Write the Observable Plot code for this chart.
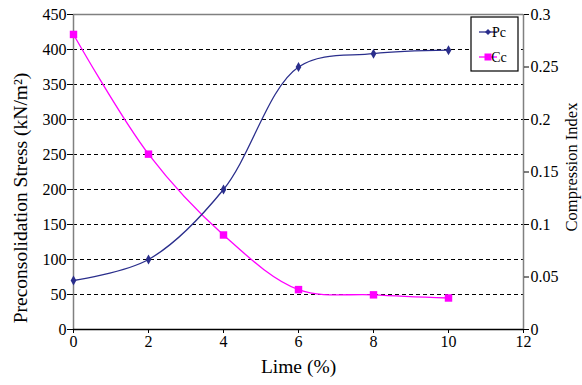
<!DOCTYPE html>
<html><head><meta charset="utf-8">
<script src="https://cdn.jsdelivr.net/npm/d3@7"></script>
<script src="https://cdn.jsdelivr.net/npm/@observablehq/plot@0.6"></script>
<style>body{margin:0;background:#fff}#c{position:relative;width:582px;height:385px}
#c svg, #c svg text{font-family:"Liberation Serif","Times New Roman",serif !important}</style>
</head><body><div id="c"></div>
<script>
const lime = [0, 2, 4, 6, 8, 10];
const pc = [70, 100, 200, 375, 394, 399];
const cc = [0.281, 0.167, 0.090, 0.038, 0.033, 0.030];
const leftTicks = [0, 50, 100, 150, 200, 250, 300, 350, 400, 450];
const rightTicks = [0, 0.05, 0.1, 0.15, 0.2, 0.25, 0.3];
const xTicks = [0, 2, 4, 6, 8, 10, 12];
const gridVals = [50, 100, 150, 200, 250, 300, 350, 400];
const xTitle = "Lime (%)";
const yTitle = "Preconsolidation Stress (kN/m²)";
const y2Title = "Compression Index";

const ratio = 450 / 0.3;
const pcData = lime.map((x, i) => ({x, v: pc[i]}));
const ccData = lime.map((x, i) => ({x, v: cc[i]}));
const navy = "#2a2e8c", mag = "#ff00ff";
const font = '"Liberation Serif", "Times New Roman", serif';

const chart = Plot.plot({
  width: 582, height: 385,
  marginLeft: 73, marginRight: 59, marginTop: 14, marginBottom: 56,
  style: {fontFamily: font, fontSize: "16px", color: "#000", background: "#fff"},
  x: {domain: [0, 12]},
  y: {domain: [0, 450]},
  marks: [
    Plot.ruleY(gridVals, {stroke: "#000", strokeWidth: 1, strokeDasharray: "4,3"}),
    Plot.ruleY([450], {stroke: "#808080", strokeWidth: 1.5}),
    Plot.ruleX([0, 12], {stroke: "#808080", strokeWidth: 1.5}),
    Plot.ruleY([0], {stroke: "#000", strokeWidth: 1.5}),
    Plot.axisX({ticks: xTicks, tickSize: 4, tickPadding: 2, fontSize: 16, label: null}),
    Plot.axisY({ticks: leftTicks, tickSize: 6, tickPadding: 1, fontSize: 16, label: null}),
    Plot.axisY({anchor: "right", ticks: rightTicks.map(d => d * ratio), tickFormat: d => String(+(d / ratio).toFixed(2)), tickSize: 5, tickPadding: 2, fontSize: 16, label: null}),
    Plot.text([xTitle], {text: d => d, frameAnchor: "bottom", textAnchor: "middle", dy: 43, fontSize: 19.5}),
    Plot.text([yTitle], {text: d => d, frameAnchor: "left", textAnchor: "middle", dx: -53, dy: 26, rotate: -90, fontSize: 19.5}),
    Plot.text([y2Title], {text: d => d, frameAnchor: "right", textAnchor: "middle", dx: 48, dy: -5, rotate: -90, fontSize: 16.5}),
    Plot.line(ccData, {x: "x", y: d => d.v * ratio, stroke: mag, strokeWidth: 1.3, curve: "catmull-rom"}),
    Plot.line(pcData, {x: "x", y: "v", stroke: navy, strokeWidth: 1.3, curve: "catmull-rom"}),
    Plot.dot(ccData, {x: "x", y: d => d.v * ratio, symbol: "square", r: 4.2, fill: mag}),
    Plot.dot(pcData, {x: "x", y: "v", symbol: "diamond", r: 3, fill: navy})
  ]
});
document.getElementById("c").appendChild(chart);

// legend box
const svg = d3.select(chart);
const lg = svg.append("g").attr("font-family", font).attr("font-size", 14);
lg.append("rect").attr("x", 471).attr("y", 17).attr("width", 47).attr("height", 54)
  .attr("fill", "#fff").attr("stroke", "#000").attr("stroke-width", 1.2);
const items = [{name: "Pc", c: navy, sym: "diamond"}, {name: "Cc", c: mag, sym: "square"}];
items.forEach((it, i) => {
  const y = 32 + i * 25;
  lg.append("line").attr("x1", 479).attr("x2", 497).attr("y1", y).attr("y2", y).attr("stroke", it.c).attr("stroke-width", 1.3);
  if (it.sym === "square") lg.append("rect").attr("x", 484.5).attr("y", y - 3.5).attr("width", 7).attr("height", 7).attr("fill", it.c);
  else lg.append("path").attr("d", `M488,${y-3}L491,${y}L488,${y+3}L485,${y}Z`).attr("fill", it.c);
  lg.append("text").attr("x", 499).attr("y", y + 5).attr("fill", "#000").text(it.name);
});
</script></body></html>
